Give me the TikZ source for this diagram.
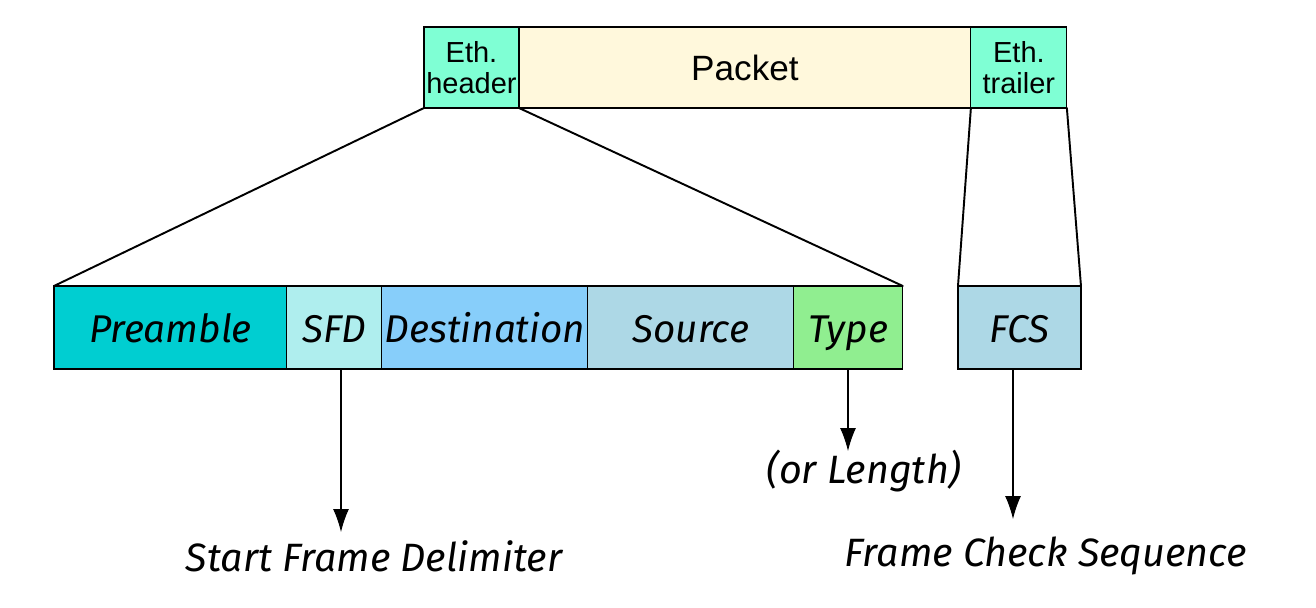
\documentclass[tikz,border=0pt]{standalone}
\usepackage{fontspec}
\setmainfont{Liberation Sans}
\newfontfamily\handfont{Fira Sans}
\usepackage{xcolor}
\usetikzlibrary{arrows.meta, positioning}
\definecolor{aquamarine}{HTML}{7FFFD4}
\definecolor{cornsilk}{HTML}{FFF8DC}
\definecolor{darkturq}{HTML}{00CED1}
\definecolor{paleturq}{HTML}{AFEEEE}
\definecolor{skyblue}{HTML}{87CEFA}
\definecolor{ltblue}{HTML}{ADD8E6}
\definecolor{ltgreen}{HTML}{90EE90}
\tikzset{
  frame/.style={draw, line width=0.6pt, inner sep=0pt, outer sep=0pt, align=center, minimum height=1.62cm, font=\fontsize{16.5}{17.5}\selectfont},
  field/.style={draw, line width=0.6pt, inner sep=0pt, outer sep=0pt, align=center, minimum height=1.66cm, text height=19pt, text depth=1.5pt, font=\handfont\itshape\fontsize{22}{24}\selectfont},
  label/.style={align=center, inner sep=1pt, font=\handfont\itshape\fontsize{22.5}{25}\selectfont},
  zoom/.style={line width=1.1pt, line cap=round},
  arrow/.style={line width=0.6pt, -{Latex[length=4.6mm, width=3.2mm]}}
}
\begin{document}
\begin{tikzpicture}[x=0.02cm, y=-0.02cm]
    \useasboundingbox (0,0) rectangle (1316,608);

    % ethernet frame
    \node[frame, fill=aquamarine, minimum width=1.9cm, anchor=north west] (ethh) at (424,27) {Eth.\\header};
    \node[frame, fill=cornsilk, minimum width=9.04cm, right=0pt of ethh, font=\fontsize{20}{21}\selectfont] (packet) {Packet};
    \node[frame, fill=aquamarine, minimum width=1.92cm, right=0pt of packet] (etht) {Eth.\\trailer};

    % header fields
    \node[field, fill=darkturq, minimum width=4.66cm, anchor=north west] (pre) at (54,286) {Preamble};
    \node[field, fill=paleturq, minimum width=1.9cm, right=0pt of pre] (sfd) {SFD};
    \node[field, fill=skyblue, minimum width=4.12cm, right=0pt of sfd] (dst) {Destination};
    \node[field, fill=ltblue, minimum width=4.12cm, right=0pt of dst] (src) {Source};
    \node[field, fill=ltgreen, minimum width=2.18cm, right=0pt of src] (type) {Type};

    % trailer field
    \node[field, fill=ltblue, minimum width=2.46cm, anchor=north west] (fcs) at (958,286) {FCS};

    % labels and arrow ends
    \node[label] (sfdlbl) at (374,556) {Start Frame Delimiter};
    \node[label] (typelbl) at (864,471) {(or Length)};
    \node[label] (fcslbl) at (1046,556) {Frame Check Sequence};
    \coordinate (sfdend) at (341,532);
    \coordinate (typeend) at (848,451);
    \coordinate (fcsend) at (1013,519);

    \draw[zoom] (ethh.south west) -- (pre.north west);
    \draw[zoom] (ethh.south east) -- (type.north east);
    \draw[zoom] (etht.south west) -- (fcs.north west);
    \draw[zoom] (etht.south east) -- (fcs.north east);

    \draw[arrow] (sfd.south -| sfdend) -- (sfdend);
    \draw[arrow] (type.south -| typeend) -- (typeend);
    \draw[arrow] (fcs.south -| fcsend) -- (fcsend);
\end{tikzpicture}
\end{document}
